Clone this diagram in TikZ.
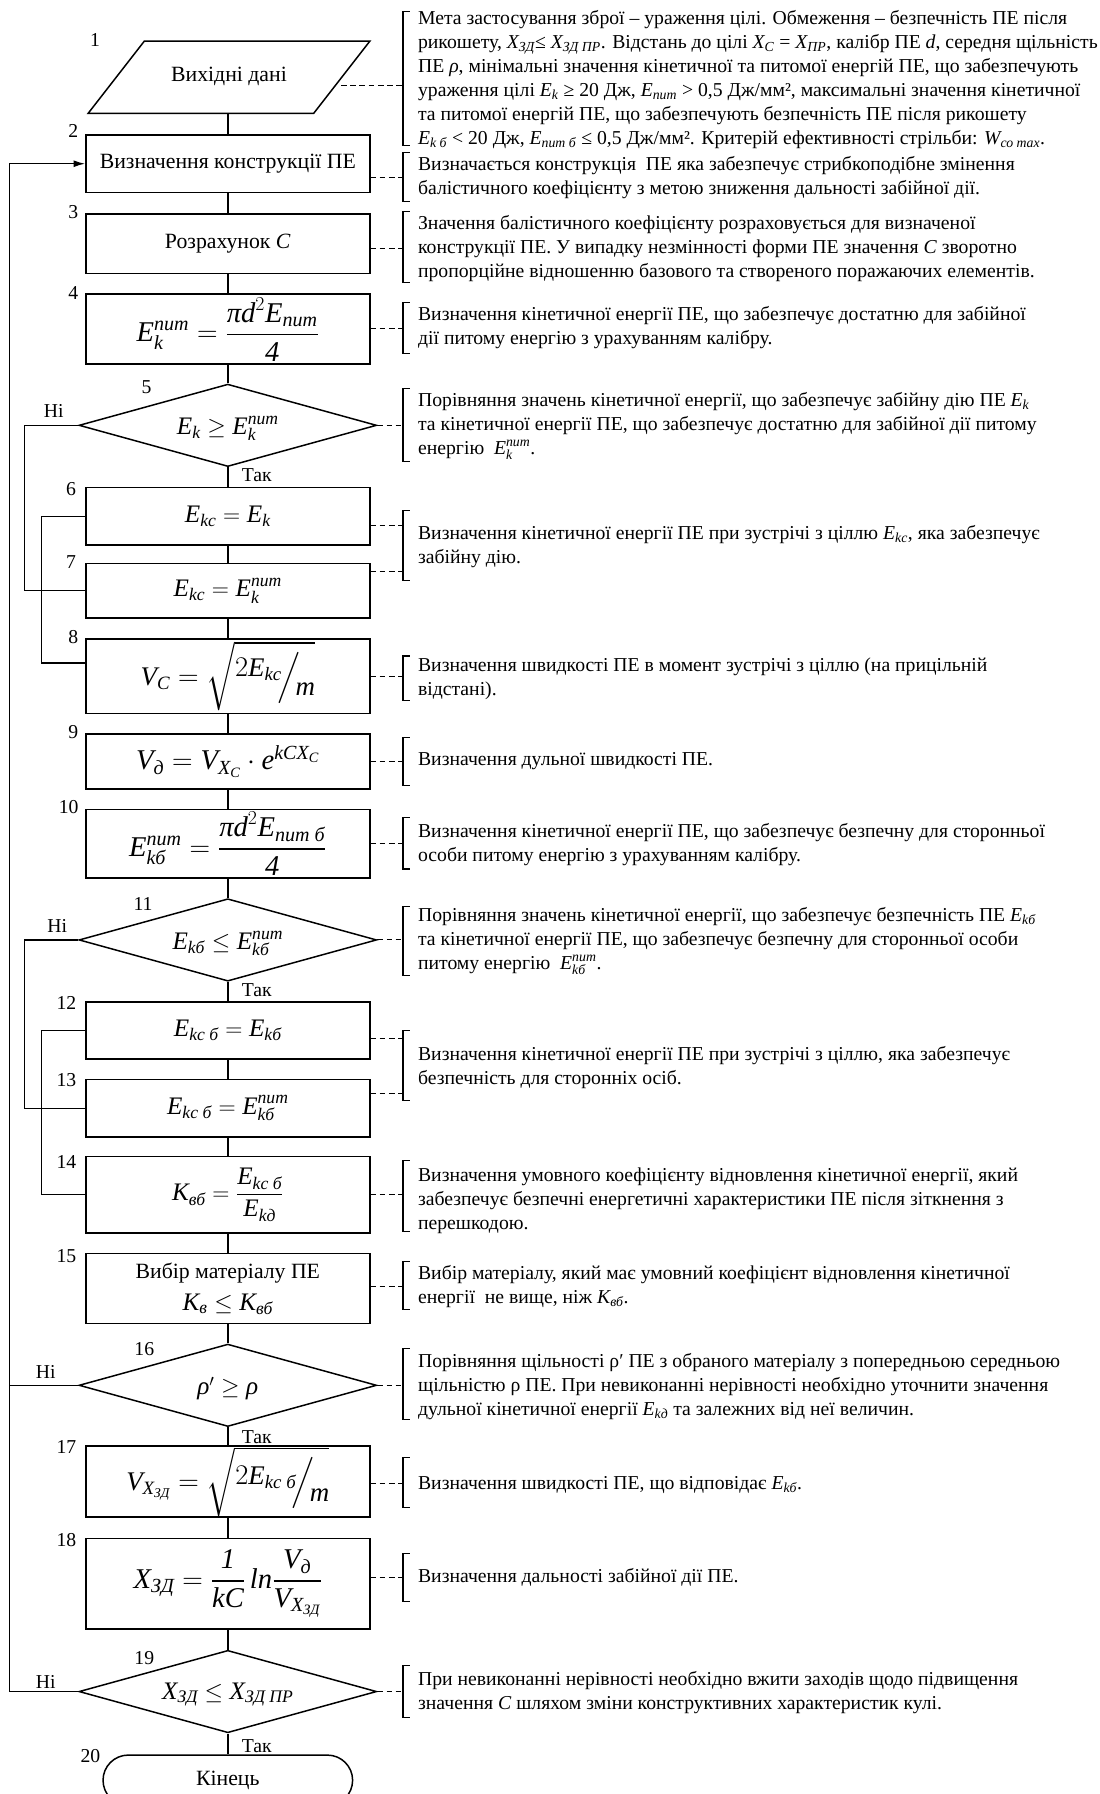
\documentclass[tikz,border=0pt]{standalone}
\usepackage{amsmath}
\usepackage{fontspec}
\setmainfont{Liberation Serif}
\usetikzlibrary{shapes.geometric,arrows.meta}
\newcommand{\vi}[1]{\text{\itshape #1}}
\newcommand{\notefont}{\fontsize{17.2}{21}\selectfont}
\newcommand{\boxfont}{\fontsize{19}{23}\selectfont}
\newcommand{\frmfont}{\fontsize{22}{26}\selectfont}
\newcommand{\frmfontL}{\fontsize{25}{29}\selectfont}
\newcommand{\frmfontM}{\fontsize{23.5}{28}\selectfont}
\newcommand{\slfrac}[2]{\raisebox{0.32em}{$#1$}\!\Big/\!\raisebox{-0.4em}{$#2$}}
\newcommand{\slfracS}[2]{\raisebox{0.22em}{$#1$}\!\Big/\!\raisebox{-0.42em}{$#2$}}
\begin{document}
\begin{tikzpicture}[x=1pt,y=-1pt,
  blk/.style={draw,line width=1.3pt,minimum width=248pt,inner sep=0pt,font=\boxfont,align=center},
  frm/.style={blk,font=\frmfont},
  frml/.style={blk,font=\frmfontL},
  frmm/.style={blk,font=\frmfontM},
  dia/.style={draw,diamond,line width=1.3pt,minimum width=260pt,minimum height=72pt,inner sep=0pt,aspect=3.6},
  ln/.style={line width=1.2pt},
  dsh/.style={line width=0.8pt,dash pattern=on 5pt off 3pt},
  brk/.style={line width=1pt},
  note/.style={anchor=west,align=left,inner sep=0pt,font=\notefont},
  num/.style={inner sep=0pt,font=\notefont},
  dtxt/.style={inner sep=0pt,font=\frmfont}]
\fill[white] (0,0) rectangle (960,1567);
\useasboundingbox (0,0) rectangle (960,1567);

% ---------- block 1: parallelogram
\draw[line width=1.3pt] (126,36) -- (323,36) -- (274,99) -- (77,99) -- cycle;
\node[inner sep=0pt,font=\boxfont] (p1) at (200,67) {Вихідні дані};
\coordinate (p1b) at (199,99);
\coordinate (p1r) at (298,75);

% ---------- main column
\node[blk,minimum height=50pt] (b2) at (199,143) {Визначення конструкції ПЕ};
\node[blk,minimum height=52pt] (b3) at (199,213) {Розрахунок \textit{C}};
\node[frml,minimum height=61pt] (b4) at (199,287.5) {$\vi{E}_{\vi{k}}^{\vi{пит}}=\dfrac{\vi{π}\vi{d}^{2}\vi{E}_{\vi{пит}}}{\vi{4}}$};
\node[dia] (d5) at (199,371.5) {};
\node[dtxt] (t5) at (199,374) {$\vi{E}_{\vi{k}}\ge\vi{E}_{\vi{k}}^{\vi{пит}}$};
\node[frm,minimum height=50pt] (b6) at (199,451) {$\vi{E}_{\vi{kc}}=\vi{E}_{\vi{k}}$};
\node[frm,minimum height=48pt] (b7) at (199,516) {$\vi{E}_{\vi{kc}}=\vi{E}_{\vi{k}}^{\vi{пит}}$};
\node[frmm,minimum height=65pt] (b8) at (199,590.5) {$\vi{V}_{\vi{C}}=\sqrt{\slfrac{2\vi{E}_{\vi{kc}}}{\vi{m}}}$};
\node[frml,minimum height=48pt] (b9) at (199,665) {$\vi{V}_{\vi{д}}=\vi{V}_{\vi{X}_{\vi{C}}}\cdot\vi{e}^{\vi{kCX}_{\vi{C}}}$};
\node[frml,minimum height=60pt] (b10) at (199,737) {$\vi{E}_{\vi{kб}}^{\vi{пит}}=\dfrac{\vi{π}\vi{d}^{2}\vi{E}_{\vi{пит б}}}{\vi{4}}$};
\node[dia] (d11) at (199,821) {};
\node[dtxt] (t11) at (199,824) {$\vi{E}_{\vi{kб}}\le\vi{E}_{\vi{kб}}^{\vi{пит}}$};
\node[frm,minimum height=50pt] (b12) at (199,900) {$\vi{E}_{\vi{kc б}}=\vi{E}_{\vi{kб}}$};
\node[frm,minimum height=50pt] (b13) at (199,968) {$\vi{E}_{\vi{kc б}}=\vi{E}_{\vi{kб}}^{\vi{пит}}$};
\node[frm,minimum height=67pt] (b14) at (199,1043.5) {$\vi{K}_{\vi{вб}}=\dfrac{\vi{E}_{\vi{kc б}}}{\vi{E}_{\vi{kд}}}$};
\node[blk,minimum height=61pt] (b15) at (199,1125.5) {Вибір матеріалу ПЕ\\[5pt] {\frmfont$\vi{K}_{\vi{в}}\le\vi{K}_{\vi{вб}}$}};
\node[dia] (d16) at (199,1210) {};
\node[dtxt] (t16) at (199,1213) {$\vi{ρ}'\ge\vi{ρ}$};
\node[frmm,minimum height=62pt] (b17) at (199,1294) {$\smash[b]{\vi{V}_{\vi{X}_{\vi{ЗД}}}}=\sqrt{\slfracS{2\vi{E}_{\vi{kc б}}}{\vi{m}}}$};
\node[frml,minimum height=79pt] (b18) at (199,1383.5) {$\vi{X}_{\vi{ЗД}}=\dfrac{\vi{1}}{\vi{kC}}\,\vi{ln}\dfrac{\vi{V}_{\vi{д}}}{\vi{V}_{\vi{X}_{\vi{ЗД}}}}$};
\node[dia] (d19) at (199,1477.5) {};
\node[dtxt] (t19) at (199,1480) {$\vi{X}_{\vi{ЗД}}\le\vi{X}_{\vi{ЗД ПР}}$};
\node[draw,line width=1.3pt,rounded corners=22pt,minimum width=218pt,minimum height=44pt,font=\boxfont] (t20) at (199,1555) {Кінець};

% ---------- vertical connectors
\draw[ln] (p1b) -- (b2.north);
\draw[ln] (b2.south) -- (b3.north);
\draw[ln] (b3.south) -- (b4.north);
\draw[ln] (b4.south) -- (d5.north);
\draw[ln] (d5.south) -- (b6.north);
\draw[ln] (b6.south) -- (b7.north);
\draw[ln] (b7.south) -- (b8.north);
\draw[ln] (b8.south) -- (b9.north);
\draw[ln] (b9.south) -- (b10.north);
\draw[ln] (b10.south) -- (d11.north);
\draw[ln] (d11.south) -- (b12.north);
\draw[ln] (b12.south) -- (b13.north);
\draw[ln] (b13.south) -- (b14.north);
\draw[ln] (b14.south) -- (b15.north);
\draw[ln] (b15.south) -- (d16.north);
\draw[ln] (d16.south) -- (b17.north);
\draw[ln] (b17.south) -- (b18.north);
\draw[ln] (b18.south) -- (d19.north);
\draw[ln] (d19.south) -- (t20.north);

% ---------- loops
\coordinate (e8) at ([yshift=11.5pt]b8.west);
\draw[ln] (d5.west) -- ++(-47,0) |- (b7.west);
\draw[ln] (b6.west) -- ++(-38,0) |- (e8);
\draw[ln] (d11.west) -- ++(-47,0) |- (b13.west);
\draw[ln] (b12.west) -- ++(-38,0) |- (b14.west);
\draw[ln] (d16.west) -- ++(-60,0);
\draw[ln,-{Latex[length=10pt,width=6pt]}] (d19.west) -- ++(-60,0) |- (b2.west);

% ---------- numbers and labels
\node[num] (n1) at (83,35) {1};
\node[num] (n2) at (64,114) {2};
\node[num] (n3) at (64,185) {3};
\node[num] (n4) at (64,256) {4};
\node[num] (n5) at (128,338) {5};
\node[num] (n6) at (62,427) {6};
\node[num] (n7) at (62,491) {7};
\node[num] (n8) at (64,556) {8};
\node[num] (n9) at (64,639) {9};
\node[num] (n10) at (60,705) {10};
\node[num] (n11) at (125,790) {11};
\node[num] (n12) at (58,876) {12};
\node[num] (n13) at (58,943) {13};
\node[num] (n14) at (58,1015) {14};
\node[num] (n15) at (58,1097) {15};
\node[num] (n16) at (126,1178) {16};
\node[num] (n17) at (58,1264) {17};
\node[num] (n18) at (58,1345) {18};
\node[num] (n19) at (126,1448) {19};
\node[num] (n20) at (79,1534) {20};
\node[num] (no5) at (47,359) {Ні};
\node[num] (no11) at (50,809) {Ні};
\node[num] (no16) at (40,1198) {Ні};
\node[num] (no19) at (40,1469) {Ні};
\node[num,anchor=west] (y5) at (211,415) {Так};
\node[num,anchor=west] (y11) at (211,865) {Так};
\node[num,anchor=west] (y16) at (211,1255) {Так};
\node[num,anchor=west] (y19) at (211,1525) {Так};

% ---------- brackets and dashed links
\draw[brk] (358,10) -- (352,10) -- (352,127) -- (358,127);
\coordinate (k1) at (352,75);
\draw[dsh] (p1r) -- (k1);
\draw[brk] (358,133) -- (352,133) -- (352,176) -- (358,176);
\coordinate (k2) at (352,155);
\draw[dsh] (b2.east |- k2) -- (k2);
\draw[brk] (358,185) -- (352,185) -- (352,247) -- (358,247);
\coordinate (k3) at (352,217);
\draw[dsh] (b3.east |- k3) -- (k3);
\draw[brk] (358,264) -- (352,264) -- (352,309) -- (358,309);
\coordinate (k4) at (352,287);
\draw[dsh] (b4.east |- k4) -- (k4);
\draw[brk] (358,339) -- (352,339) -- (352,403) -- (358,403);
\coordinate (k5) at (352,371.5);
\draw[dsh] (d5.east) -- (k5);
\draw[brk] (358,446) -- (352,446) -- (352,507) -- (358,507);
\coordinate (k6) at (352,459);
\coordinate (k7) at (352,499);
\draw[dsh] (b6.east |- k6) -- (k6);
\draw[dsh] (b7.east |- k7) -- (k7);
\draw[brk] (358,573) -- (352,573) -- (352,612) -- (358,612);
\coordinate (k8) at (352,591);
\draw[dsh] (b8.east |- k8) -- (k8);
\draw[brk] (358,644) -- (352,644) -- (352,686) -- (358,686);
\coordinate (k9) at (352,665);
\draw[dsh] (b9.east |- k9) -- (k9);
\draw[brk] (358,714) -- (352,714) -- (352,759) -- (358,759);
\coordinate (k10) at (352,737);
\draw[dsh] (b10.east |- k10) -- (k10);
\draw[brk] (358,792) -- (352,792) -- (352,852) -- (358,852);
\coordinate (k11) at (352,821);
\draw[dsh] (d11.east) -- (k11);
\draw[brk] (358,900) -- (352,900) -- (352,961) -- (358,961);
\coordinate (k12) at (352,907);
\coordinate (k13) at (352,955);
\draw[dsh] (b12.east |- k12) -- (k12);
\draw[dsh] (b13.east |- k13) -- (k13);
\draw[brk] (358,1014) -- (352,1014) -- (352,1076) -- (358,1076);
\coordinate (k14) at (352,1043);
\draw[dsh] (b14.east |- k14) -- (k14);
\draw[brk] (358,1102) -- (352,1102) -- (352,1144) -- (358,1144);
\coordinate (k15) at (352,1124);
\draw[dsh] (b15.east |- k15) -- (k15);
\draw[brk] (358,1178) -- (352,1178) -- (352,1240) -- (358,1240);
\coordinate (k16) at (352,1210);
\draw[dsh] (d16.east) -- (k16);
\draw[brk] (358,1273) -- (352,1273) -- (352,1317) -- (358,1317);
\coordinate (k17) at (352,1296);
\draw[dsh] (b17.east |- k17) -- (k17);
\draw[brk] (358,1357) -- (352,1357) -- (352,1399) -- (358,1399);
\coordinate (k18) at (352,1378);
\draw[dsh] (b18.east |- k18) -- (k18);
\draw[brk] (358,1455) -- (352,1455) -- (352,1500) -- (358,1500);
\coordinate (k19) at (352,1477.5);
\draw[dsh] (d19.east) -- (k19);

% ---------- notes
\node[note] (c1) at (365,69.5) {Мета застосування зброї – ураження цілі. Обмеження – безпечність ПЕ після\\
рикошету, $\vi{X}_{\vi{ЗД}}$≤ $\vi{X}_{\vi{ЗД ПР}}$. Відстань до цілі $\vi{X}_{\vi{C}}$ = $\vi{X}_{\vi{ПР}}$, калібр ПЕ \textit{d}, середня щільність\\
ПЕ \textit{ρ}, мінімальні значення кінетичної та питомої енергій ПЕ, що забезпечують\\
ураження цілі $\vi{E}_{\vi{k}}$ ≥ 20 Дж, $\vi{E}_{\vi{пит}}$ > 0,5 Дж/мм², максимальні значення кінетичної\\
та питомої енергій ПЕ, що забезпечують безпечність ПЕ після рикошету\\
$\vi{E}_{\vi{k б}}$ < 20 Дж, $\vi{E}_{\vi{пит б}}$ ≤ 0,5 Дж/мм². Критерій ефективності стрільби: $\vi{W}_{\vi{со max}}$.};
\node[note] (c2) at (365,155.5) {Визначається конструкція \ ПЕ яка забезпечує стрибкоподібне змінення\\
балістичного коефіцієнту з метою зниження дальності забійної дії.};
\node[note] (c3) at (365,217) {Значення балістичного коефіцієнту розраховується для визначеної\\
конструкції ПЕ. У випадку незмінності форми ПЕ значення \textit{C} зворотно\\
пропорційне відношенню базового та створеного поражаючих елементів.};
\node[note] (c4) at (365,286.5) {Визначення кінетичної енергії ПЕ, що забезпечує достатню для забійної\\
дії питому енергію з урахуванням калібру.};
\node[note] (c5) at (365,372) {Порівняння значень кінетичної енергії, що забезпечує забійну дію ПЕ $\vi{E}_{\vi{k}}$\\
та кінетичної енергії ПЕ, що забезпечує достатню для забійної дії питому\\
енергію \ $\vi{E}_{\vi{k}}^{\vi{пит}}$.};
\node[note] (c6) at (365,477.5) {Визначення кінетичної енергії ПЕ при зустрічі з ціллю $\vi{E}_{\vi{kc}}$, яка забезпечує\\
забійну дію.};
\node[note] (c8) at (365,592.5) {Визначення швидкості ПЕ в момент зустрічі з ціллю (на прицільній\\
відстані).};
\node[note] (c9) at (365,665) {Визначення дульної швидкості ПЕ.};
\node[note] (c10) at (365,737.5) {Визначення кінетичної енергії ПЕ, що забезпечує безпечну для сторонньої\\
особи питому енергію з урахуванням калібру.};
\node[note] (c11) at (365,822) {Порівняння значень кінетичної енергії, що забезпечує безпечність ПЕ $\vi{E}_{\vi{kб}}$\\
та кінетичної енергії ПЕ, що забезпечує безпечну для сторонньої особи\\
питому енергію \ $\vi{E}_{\vi{kб}}^{\vi{пит}}$.};
\node[note] (c12) at (365,932.5) {Визначення кінетичної енергії ПЕ при зустрічі з ціллю, яка забезпечує\\
безпечність для сторонніх осіб.};
\node[note] (c14) at (365,1049) {Визначення умовного коефіцієнту відновлення кінетичної енергії, який\\
забезпечує безпечні енергетичні характеристики ПЕ після зіткнення з\\
перешкодою.};
\node[note] (c15) at (365,1124) {Вибір матеріалу, який має умовний коефіцієнт відновлення кінетичної\\
енергії \ не вище, ніж $\vi{K}_{\vi{вб}}$.};
\node[note] (c16) at (365,1211) {Порівняння щільності ρ′ ПЕ з обраного матеріалу з попередньою середньою\\
щільністю ρ ПЕ. При невиконанні нерівності необхідно уточнити значення\\
дульної кінетичної енергії $\vi{E}_{\vi{kд}}$ та залежних від неї величин.};
\node[note] (c17) at (365,1297) {Визначення швидкості ПЕ, що відповідає $\vi{E}_{\vi{kб}}$.};
\node[note] (c18) at (365,1378) {Визначення дальності забійної дії ПЕ.};
\node[note] (c19) at (365,1478.5) {При невиконанні нерівності необхідно вжити заходів щодо підвищення\\
значення \textit{C} шляхом зміни конструктивних характеристик кулі.};
\end{tikzpicture}
\end{document}
